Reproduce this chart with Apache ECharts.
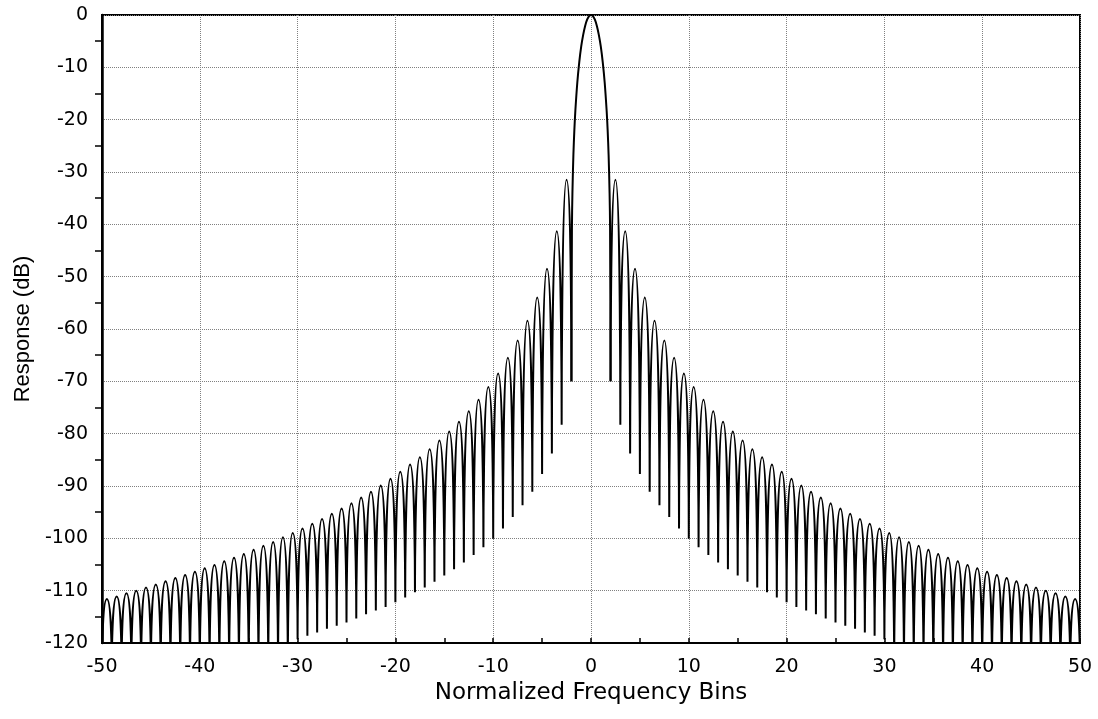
<!DOCTYPE html>
<html>
<head>
<meta charset="utf-8">
<script src="https://cdn.jsdelivr.net/npm/echarts@6/dist/echarts.min.js"></script>
<style>
  html, body { margin: 0; padding: 0; background: #fff; }
  #chart { width: 1098px; height: 719px; }
</style>
</head>
<body>
<div id="chart"></div>
<script>
// ---- Data ----
// Main lobe (bins, dB)
const mainBins = [-2, -1.95, -1.9, -1.8, -1.7, -1.6, -1.4, -1.2, -1.0, -0.8, -0.6, -0.4, -0.2, 0,
                  0.2, 0.4, 0.6, 0.8, 1.0, 1.2, 1.4, 1.6, 1.7, 1.8, 1.9, 1.95, 2];
const mainDb   = [-70, -40.8, -34.1, -26.7, -21.9, -18.3, -12.9, -9.0, -6.0, -3.8, -2.1, -0.9, -0.2, 0,
                  -0.2, -0.9, -2.1, -3.8, -6.0, -9.0, -12.9, -18.3, -21.9, -26.7, -34.1, -40.8, -70];

// Side-lobe peak levels (dB) for the lobes between bins |k| and |k|+1, k = 2..49 (both sides)
const sidelobeStart = 2;
const sidelobePeakDb = [
  -31.5, -41.3, -48.5, -54.0, -58.4, -62.2, -65.5, -68.5, -71.1, -73.5,
  -75.7, -77.7, -79.6, -81.3, -83.0, -84.5, -85.9, -87.3, -88.6, -89.9,
  -91.1, -92.2, -93.3, -94.3, -95.3, -96.3, -97.2, -98.1, -99.0, -99.8,
  -100.7, -101.4, -102.2, -103.0, -103.7, -104.4, -105.1, -105.7, -106.4, -107.0,
  -107.6, -108.2, -108.8, -109.4, -110.0, -110.5, -111.1, -111.6
];
// Depth (dB) of the sampled nulls at bins |k| = 2..50 (below -120 is off the plot)
const nullDb = [
  -70.0, -78.3, -83.8, -87.7, -91.1, -93.7, -95.9, -98.1, -100.1, -101.7,
  -103.2, -104.6, -105.9, -107.1, -108.3, -109.4, -110.3, -111.3, -112.2, -113.1,
  -113.8, -114.5, -115.3, -116.1, -116.7, -117.3, -118.0, -118.6, -119.3, -125,
  -125, -125, -125, -125, -125, -125, -125, -125, -125, -125,
  -125, -125, -125, -125, -125, -125, -125, -125, -125
];

// Axis ticks
const xTicks = [-50, -40, -30, -20, -10, 0, 10, 20, 30, 40, 50];
const yTicks = [0, -10, -20, -30, -40, -50, -60, -70, -80, -90, -100, -110, -120];

// ---- Build series data ----
const mainData = mainBins.map((b, i) => [b, mainDb[i]]);

const lobeData = [];
// left side, from -50 towards -2
for (let i = sidelobePeakDb.length - 1; i >= 0; i--) {
  const k = sidelobeStart + i;
  lobeData.push([-(k + 1), nullDb[i + 1]]);
  lobeData.push([-(k + 0.5), sidelobePeakDb[i]]);
  lobeData.push([-k, nullDb[i]]);
  lobeData.push([-k, '-']);
}
// right side, from 2 towards 50
for (let i = 0; i < sidelobePeakDb.length; i++) {
  const k = sidelobeStart + i;
  lobeData.push([k, nullDb[i]]);
  lobeData.push([k + 0.5, sidelobePeakDb[i]]);
  lobeData.push([k + 1, nullDb[i + 1]]);
  lobeData.push([k + 1, '-']);
}

const WIDE = '"DejaVu Sans", Verdana, sans-serif';
const ARIAL = '"Liberation Sans", Arial, Helvetica, sans-serif';
const chart = echarts.init(document.getElementById('chart'), null, { renderer: 'canvas' });
chart.setOption({
  animation: false,
  backgroundColor: '#fff',
  grid: {
    left: 102, right: 18, top: 15, bottom: 76,
    show: true, borderColor: '#000', borderWidth: 2, backgroundColor: 'transparent'
  },
  xAxis: {
    type: 'value',
    min: xTicks[0], max: xTicks[xTicks.length - 1], interval: 10,
    name: 'Normalized Frequency Bins',
    nameLocation: 'middle', nameGap: 36,
    nameTextStyle: { color: '#000', fontSize: 23, fontFamily: WIDE },
    axisLine: { show: true, onZero: false, lineStyle: { color: '#000', width: 2 } },
    axisTick: { show: true, inside: true, length: 5, lineStyle: { color: '#000', width: 1.5 } },
    minorTick: { show: true, splitNumber: 2, length: 5, lineStyle: { color: '#000', width: 1.5 } },
    axisLabel: { color: '#000', fontSize: 19, fontFamily: WIDE, margin: 15 },
    splitLine: { show: true, lineStyle: { color: '#808080', type: 'dotted', width: 1 } }
  },
  yAxis: {
    type: 'value',
    min: yTicks[yTicks.length - 1], max: yTicks[0], interval: 10,
    name: 'Response (dB)',
    nameLocation: 'middle', nameGap: 67,
    nameTextStyle: { color: '#000', fontSize: 22, fontFamily: ARIAL },
    axisLine: { show: true, onZero: false, lineStyle: { color: '#000', width: 2.5 } },
    axisTick: { show: false },
    minorTick: { show: true, splitNumber: 2, length: 7, lineStyle: { color: '#000', width: 1.5 } },
    axisLabel: { color: '#000', fontSize: 19, fontFamily: WIDE, margin: 14 },
    splitLine: { show: true, lineStyle: { color: '#808080', type: 'dotted', width: 1 } }
  },
  series: [
    {
      type: 'line', name: 'main lobe', data: mainData,
      showSymbol: false, symbol: 'none', smooth: 0.3,
      lineStyle: { color: '#000', width: 2 }, clip: true, z: 3
    },
    {
      type: 'line', name: 'side lobes', data: lobeData,
      showSymbol: false, symbol: 'none', connectNulls: false,
      smooth: 1, smoothMonotone: 'x',
      lineStyle: { color: '#000', width: 2 }, clip: true, z: 3
    }
  ]
});
</script>
</body>
</html>
